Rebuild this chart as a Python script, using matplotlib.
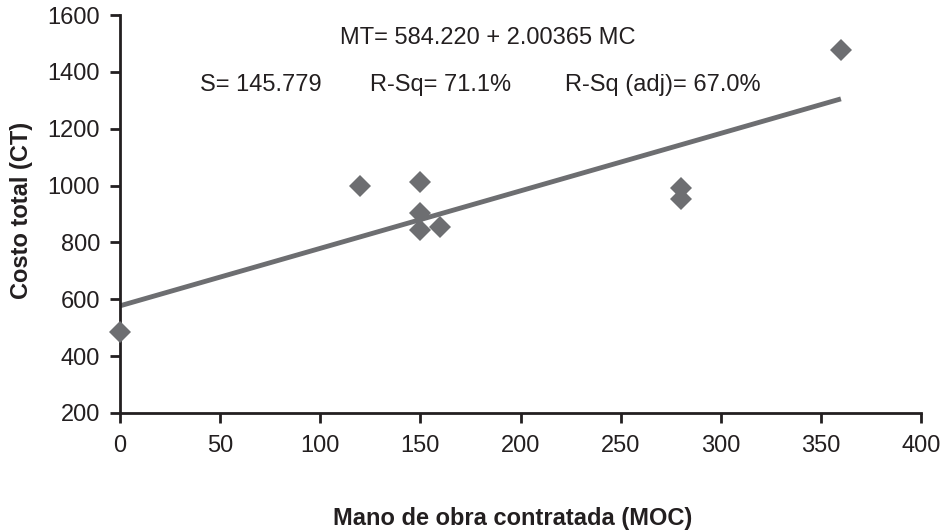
import matplotlib.pyplot as plt

# data
moc = [0, 120, 150, 150, 150, 160, 280, 280, 360]
ct = [486, 1000, 1011, 902, 844, 855, 992, 953, 1476]

# fitted line as drawn (start / end)
fit_x = [0, 360]
fit_y = [577, 1305]

x_ticks = [0, 50, 100, 150, 200, 250, 300, 350, 400]
y_ticks = [200, 400, 600, 800, 1000, 1200, 1400, 1600]

dark = '#231f20'
gray = '#6d6e71'
fs = 17

plt.rcParams['font.family'] = ['Liberation Sans', 'DejaVu Sans']

fig = plt.figure(figsize=(9.43, 5.32), dpi=100)
ax = fig.add_axes([0.1273, 0.2237, 0.8494, 0.7481])

ax.plot(fit_x, fit_y, color=gray, linewidth=3.5, solid_capstyle='butt', zorder=2)
ax.plot(moc, ct, linestyle='none', marker='D', markersize=11,
        color=gray, markeredgewidth=0, zorder=3, clip_on=False)

ax.set_xlim(0, 400)
ax.set_ylim(200, 1600)
ax.set_xticks(x_ticks)
ax.set_yticks(y_ticks)
ax.tick_params(direction='out', length=7.5, width=2, color=dark,
               labelsize=fs, labelcolor=dark)
ax.tick_params(axis='y', pad=7)
ax.tick_params(axis='x', pad=8)

for s in ['top', 'right']:
    ax.spines[s].set_visible(False)
for s in ['left', 'bottom']:
    ax.spines[s].set_linewidth(2)
    ax.spines[s].set_color(dark)

fig.text(22 / 943, 1 - 210 / 532, 'Costo total (CT)', fontsize=fs, fontweight='bold',
         color=dark, rotation=90, ha='center', va='center')
fig.text(513 / 943, 1 - 518 / 532, 'Mano de obra contratada (MOC)', fontsize=fs,
         fontweight='bold', color=dark, ha='center', va='center')

# regression summary texts
fig.text(340 / 943, 1 - 38 / 532, 'MT= 584.220 + 2.00365 MC', fontsize=fs,
         color=dark, ha='left', va='center')
fig.text(200 / 943, 1 - 85 / 532, 'S= 145.779', fontsize=fs,
         color=dark, ha='left', va='center')
fig.text(370 / 943, 1 - 85 / 532, 'R-Sq= 71.1%', fontsize=fs,
         color=dark, ha='left', va='center')
fig.text(565 / 943, 1 - 85 / 532, 'R-Sq (adj)= 67.0%', fontsize=fs,
         color=dark, ha='left', va='center')

fig.savefig('out.png', dpi=100)
